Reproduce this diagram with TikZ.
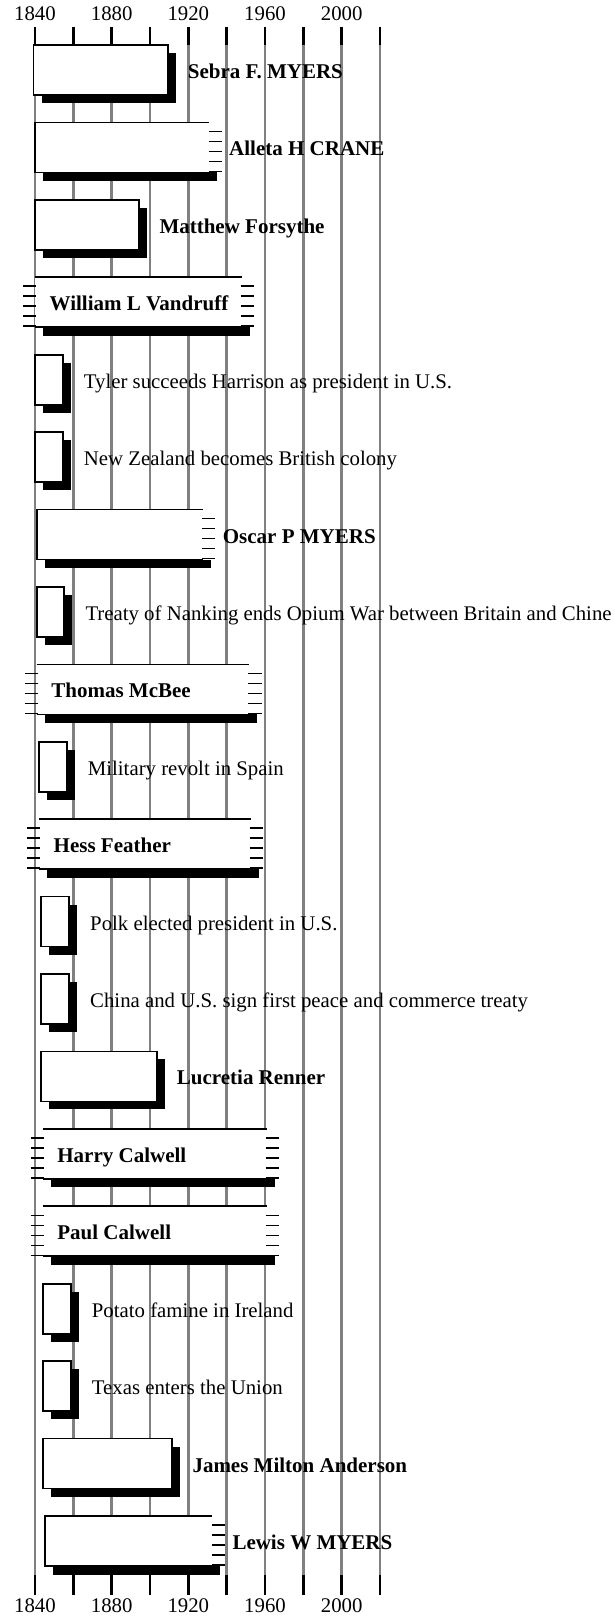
\documentclass[tikz,border=0pt]{standalone}
\usepackage{fontspec}
\setmainfont{Liberation Serif}
\tikzset{
  gridline/.style={draw=gray, line width=2.6pt},
  tickline/.style={draw=black, line width=2.8pt},
  boxline/.style={draw=black, line width=1.7pt},
  dashline/.style={draw=black, line width=1.6pt},
  shadowfill/.style={fill=black},
  lbl/.style={anchor=base west, inner sep=0pt, font=\fontsize{20.8}{24}\selectfont},
  namelbl/.style={anchor=base west, inner sep=0pt, font=\fontsize{21}{24}\selectfont\bfseries},
  yearlbl/.style={anchor=base, inner sep=0pt, font=\fontsize{20.8}{24}\selectfont},
}
% name, row, left, right, label
\newcommand\ClosedBox[5]{%
  \pgfmathsetmacro\RowT{45+#2*77.42}
  \fill[shadowfill] ({#3+8},{\RowT+8}) rectangle ({#4+8},{\RowT+58});
  \draw[boxline,fill=white] (#3,\RowT) rectangle (#4,{\RowT+50});
  \node[namelbl] (#1) at ({#4+20},{\RowT+33.5}) {#5};
}
\newcommand\EventBox[5]{%
  \pgfmathsetmacro\RowT{45+#2*77.42}
  \fill[shadowfill] ({#3+8},{\RowT+8}) rectangle ({#4+8},{\RowT+58});
  \draw[boxline,fill=white] (#3,\RowT) rectangle (#4,{\RowT+50});
  \node[lbl] (#1) at ({#4+21},{\RowT+33.5}) {#5};
}
\newcommand\OpenRBox[5]{%
  \pgfmathsetmacro\RowT{45+#2*77.42}
  \fill[shadowfill] ({#3+8},{\RowT+50}) rectangle ({#4+8},{\RowT+58.5});
  \fill[white] (#3,\RowT) rectangle (#4,{\RowT+50});
  \draw[boxline] (#4,\RowT) -- (#3,\RowT) -- (#3,{\RowT+50}) -- (#4,{\RowT+50});
  \foreach \dd in {9,19,29,39,49}
    \draw[dashline] ({#4-0.5},{\RowT+\dd}) -- ({#4+12.5},{\RowT+\dd});
  \node[namelbl] (#1) at ({#4+20},{\RowT+33.5}) {#5};
}
\newcommand\OpenBBox[5]{%
  \pgfmathsetmacro\RowT{45+#2*77.42}
  \fill[shadowfill] ({#3+8},{\RowT+50}) rectangle ({#4+8},{\RowT+58.5});
  \fill[white] (#3,\RowT) rectangle (#4,{\RowT+50});
  \draw[boxline] (#3,\RowT) -- (#4,\RowT);
  \draw[boxline] (#3,{\RowT+50}) -- (#4,{\RowT+50});
  \foreach \dd in {9,19,29,39,49}{
    \draw[dashline] ({#3-12},{\RowT+\dd}) -- ({#3+1},{\RowT+\dd});
    \draw[dashline] ({#4-1},{\RowT+\dd}) -- ({#4+12.5},{\RowT+\dd});
  }
  \node[namelbl] (#1) at ({#3+14.5},{\RowT+33.5}) {#5};
}
\begin{document}
\begin{tikzpicture}[x=1pt,y=-1pt]
\useasboundingbox (0,0) rectangle (614,1618);
\fill[white] (0,0) rectangle (614,1618);
% grid
\foreach \k in {0,...,9}{
  \pgfmathsetmacro\gx{35+\k*38.333}
  \draw[gridline] (\gx,45) -- (\gx,1575);
  \draw[tickline] (\gx,26.5) -- (\gx,45);
  \draw[tickline] (\gx,1575) -- (\gx,1595);
}
\node[yearlbl] (yt1840) at (35,20.5) {1840};
\node[yearlbl] (yt1880) at (111.67,20.5) {1880};
\node[yearlbl] (yt1920) at (188.33,20.5) {1920};
\node[yearlbl] (yt1960) at (265,20.5) {1960};
\node[yearlbl] (yt2000) at (341.67,20.5) {2000};
\node[yearlbl] (yb1840) at (35,1612.5) {1840};
\node[yearlbl] (yb1880) at (111.67,1612.5) {1880};
\node[yearlbl] (yb1920) at (188.33,1612.5) {1920};
\node[yearlbl] (yb1960) at (265,1612.5) {1960};
\node[yearlbl] (yb2000) at (341.67,1612.5) {2000};
% rows
\ClosedBox{sebra}{0}{33.5}{167.7}{Sebra F. MYERS}
\OpenRBox{alleta}{1}{35}{209}{Alleta H CRANE}
\ClosedBox{matthew}{2}{35}{139.3}{Matthew Forsythe}
\OpenBBox{william}{3}{35}{241.7}{William L Vandruff}
\EventBox{tyler}{4}{35}{62.7}{Tyler succeeds Harrison as president in U.S.}
\EventBox{newzealand}{5}{35}{62.7}{New Zealand becomes British colony}
\OpenRBox{oscar}{6}{37.3}{202.7}{Oscar P MYERS}
\EventBox{nanking}{7}{36.7}{64.3}{Treaty of Nanking ends Opium War between Britain and Chine}
\OpenBBox{thomas}{8}{36.7}{249.3}{Thomas McBee}
\EventBox{spain}{9}{39}{66.7}{Military revolt in Spain}
\OpenBBox{hess}{10}{39}{250.7}{Hess Feather}
\EventBox{polk}{11}{40.7}{69}{Polk elected president in U.S.}
\EventBox{china}{12}{40.7}{69}{China and U.S. sign first peace and commerce treaty}
\ClosedBox{lucretia}{13}{40.7}{156.7}{Lucretia Renner}
\OpenBBox{harry}{14}{42.7}{266.7}{Harry Calwell}
\OpenBBox{paul}{15}{42.7}{266.7}{Paul Calwell}
\EventBox{potato}{16}{42.7}{70.7}{Potato famine in Ireland}
\EventBox{texas}{17}{42.7}{70.7}{Texas enters the Union}
\ClosedBox{james}{18}{42.7}{172.3}{James Milton Anderson}
\OpenRBox{lewis}{19}{45}{212.3}{Lewis W MYERS}
\end{tikzpicture}
\end{document}
